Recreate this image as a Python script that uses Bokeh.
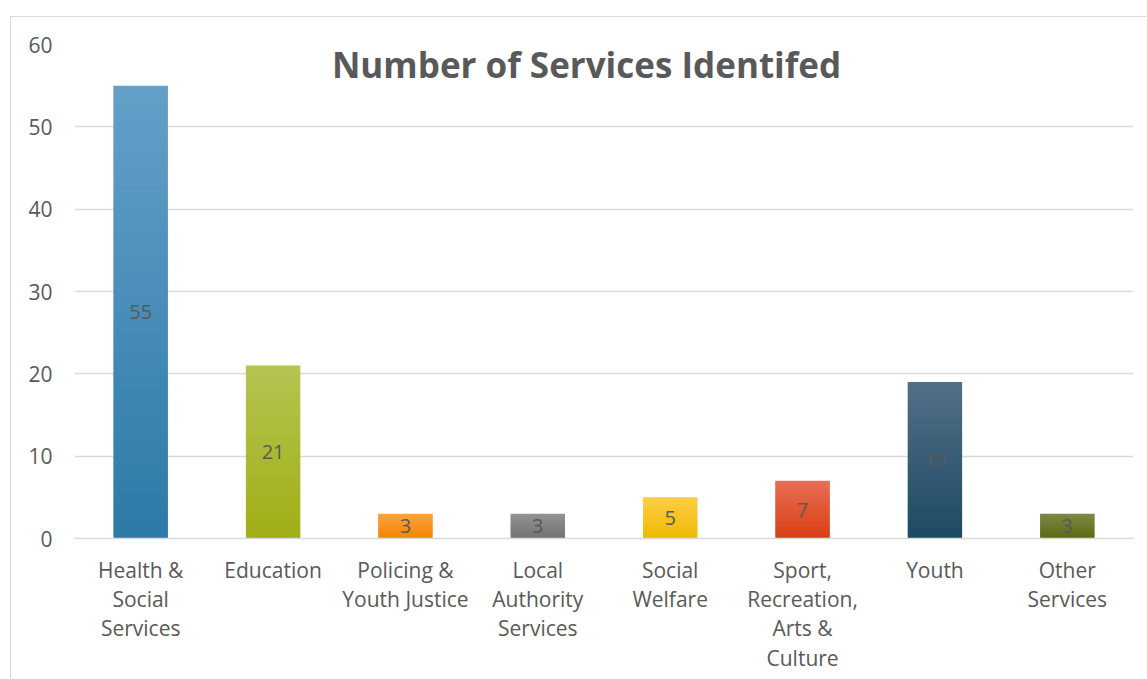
from bokeh.plotting import figure
from bokeh.models import FactorRange, Range1d, FixedTicker, Label, ColumnDataSource
from bokeh.embed import file_html
from bokeh.resources import INLINE
from bokeh.core.properties import value

categories = [
    "Health &\nSocial\nServices",
    "Education",
    "Policing &\nYouth Justice",
    "Local\nAuthority\nServices",
    "Social\nWelfare",
    "Sport,\nRecreation,\nArts &\nCulture",
    "Youth",
    "Other\nServices",
]
counts = [55, 21, 3, 3, 5, 7, 19, 3]
top_colors = ["#64A0C8", "#B5C451", "#FFA23F", "#939393", "#FFCD48", "#E86E55", "#536F88", "#7D8845"]
bottom_colors = ["#2C7AA8", "#A0AF15", "#F28500", "#727272", "#EDBB00", "#D84012", "#1D4A64", "#5C6A10"]
y_ticks = [0, 10, 20, 30, 40, 50, 60]
title_text = "Number of Services Identifed"

FONT = "Open Sans"
GRAY = "#595959"


def hex2rgb(h):
    h = h.lstrip("#")
    return tuple(int(h[i:i + 2], 16) for i in (0, 2, 4))


def mix(c0, c1, t):
    a, b = hex2rgb(c0), hex2rgb(c1)
    return "#%02x%02x%02x" % tuple(int(round(a[k] + (b[k] - a[k]) * t)) for k in range(3))


p = figure(
    x_range=FactorRange(*categories, range_padding=0),
    y_range=Range1d(0, 60),
    width=1136, height=662,
    output_backend="svg", toolbar_location=None,
    min_border_left=63, min_border_right=14, min_border_top=27, min_border_bottom=141,
    background_fill_color="white", border_fill_color="white",
    outline_line_color=None,
    styles={"margin-left": "10px", "margin-top": "16px",
            "border-left": "1px solid #D9D9D9", "border-top": "1px solid #D9D9D9"},
)

# gradient bars built from the counts
xs, bots, tops, cols = [], [], [], []
for cat, v, ct, cb in zip(categories, counts, top_colors, bottom_colors):
    n = max(4, int(v * 4))
    for i in range(n):
        f0 = i / n
        f1 = min(1.0, (i + 1.8) / n)
        xs.append(cat)
        bots.append(v * f0)
        tops.append(v * f1)
        cols.append(mix(cb, ct, (i + 0.5) / n))
src = ColumnDataSource(dict(x=xs, b=bots, t=tops, c=cols))
p.vbar(x="x", bottom="b", top="t", width=0.41, fill_color="c", line_color=None, source=src)

p.text(x=categories, y=[v / 2 for v in counts], text=[str(v) for v in counts],
       text_align="center", text_baseline="middle", text_font=value(FONT),
       text_font_size="20px", text_color=GRAY)

p.add_layout(Label(x=3.868, y=57.6, text=title_text, text_align="center", text_baseline="middle",
                   text_font=FONT, text_font_size="35px", text_font_style="bold", text_color=GRAY))

p.xgrid.grid_line_color = None
p.ygrid.grid_line_color = "#D9D9D9"
p.ygrid.grid_line_width = 1.3
p.yaxis.ticker = FixedTicker(ticks=y_ticks)

p.yaxis.axis_line_color = None
p.yaxis.major_tick_line_color = None
p.yaxis.minor_tick_line_color = None
p.yaxis.major_tick_out = 0
p.yaxis.major_tick_in = 0
p.yaxis.minor_tick_out = 0
p.yaxis.major_label_standoff = 22

p.xaxis.axis_line_color = "#D9D9D9"
p.xaxis.axis_line_width = 1.3
p.xaxis.major_tick_line_color = None
p.xaxis.minor_tick_line_color = None
p.xaxis.major_tick_out = 0
p.xaxis.major_tick_in = 0
p.xaxis.minor_tick_out = 0
p.xaxis.major_label_standoff = 17
p.xaxis.major_label_text_line_height = 1.05

for ax in (p.xaxis, p.yaxis):
    ax.major_label_text_font = FONT
    ax.major_label_text_font_size = "21px"
    ax.major_label_text_color = GRAY

open("out.html", "w").write(file_html(p, INLINE))
